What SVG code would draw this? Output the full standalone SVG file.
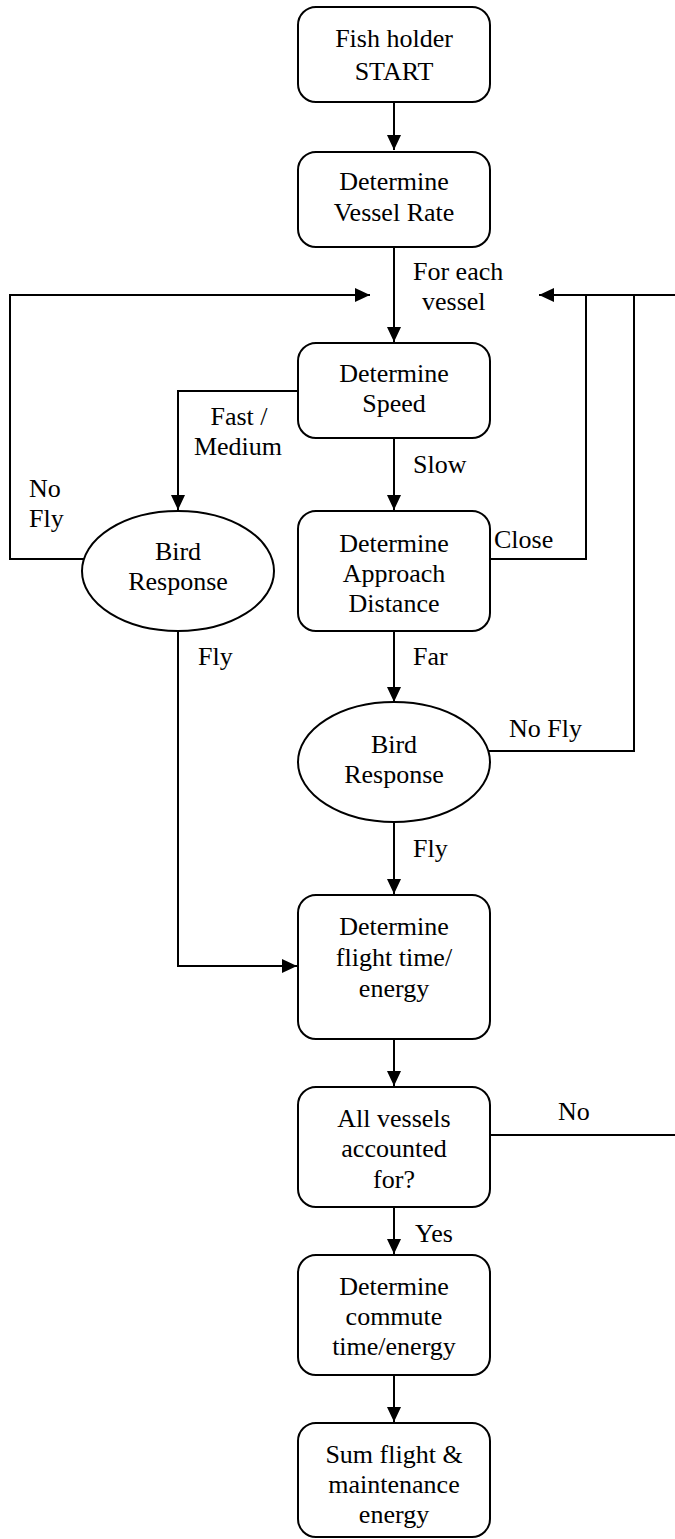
<svg xmlns="http://www.w3.org/2000/svg" width="675" height="1539" viewBox="0 0 675 1539" font-family="'Liberation Serif', 'Times New Roman', Times, 'DejaVu Serif', serif">
<style>
.n{fill:#fff;stroke:#000;stroke-width:2}
.t{font-family:'Liberation Serif', 'Times New Roman', Times, 'DejaVu Serif', serif;font-size:26px;fill:#000}
.c{text-anchor:middle}
.e{fill:none;stroke:#000;stroke-width:2}
</style>
<defs>
<marker id="ah" markerUnits="userSpaceOnUse" markerWidth="16" markerHeight="14" refX="15" refY="7" orient="auto">
<path d="M0,0 L15,7 L0,14 z" fill="#000"/>
</marker>
</defs>
<rect width="675" height="1539" fill="#fff"/>
<g id="connectors">
<path class="e" d="M394,102 V150" marker-end="url(#ah)"/>
<path class="e" d="M394,247 V342" marker-end="url(#ah)"/>
<path class="e" d="M394,438 V510" marker-end="url(#ah)"/>
<path class="e" d="M394,631 V702" marker-end="url(#ah)"/>
<path class="e" d="M394,822 V894" marker-end="url(#ah)"/>
<path class="e" d="M394,1039 V1086" marker-end="url(#ah)"/>
<path class="e" d="M394,1207 V1254" marker-end="url(#ah)"/>
<path class="e" d="M394,1375 V1422" marker-end="url(#ah)"/>
<path class="e" d="M297,391 H178 V510" marker-end="url(#ah)"/>
<path class="e" d="M84,559 H10 V295 H370" marker-end="url(#ah)"/>
<path class="e" d="M178,631 V966 H297" marker-end="url(#ah)"/>
<path class="e" d="M675,295 H539" marker-end="url(#ah)"/>
<path class="e" d="M490,559 H586 V295"/>
<path class="e" d="M488,751 H634 V295"/>
<path class="e" d="M490,1135 H675"/>
<text class="t" x="413" y="280">For each</text>
<text class="t" x="422" y="310">vessel</text>
<text class="t c" x="239" y="425">Fast /</text>
<text class="t c" x="238" y="455">Medium</text>
<text class="t" x="413" y="473">Slow</text>
<text class="t" x="29" y="497">No</text>
<text class="t" x="29" y="527">Fly</text>
<text class="t" x="494" y="548">Close</text>
<text class="t" x="198" y="665">Fly</text>
<text class="t" x="413" y="665">Far</text>
<text class="t" x="509" y="737">No Fly</text>
<text class="t" x="413" y="857">Fly</text>
<text class="t" x="558" y="1120">No</text>
<text class="t" x="415" y="1242">Yes</text>
</g>
<g id="start">
<rect class="n" x="298" y="7" width="192" height="95" rx="18"/>
<text class="t c" x="394" y="47">Fish holder</text>
<text class="t c" x="394" y="80">START</text>
</g>
<g id="vesselRate">
<rect class="n" x="298" y="152" width="192" height="95" rx="18"/>
<text class="t c" x="394" y="190">Determine</text>
<text class="t c" x="394" y="221">Vessel Rate</text>
</g>
<g id="speed">
<rect class="n" x="298" y="343" width="192" height="95" rx="18"/>
<text class="t c" x="394" y="382">Determine</text>
<text class="t c" x="394" y="412">Speed</text>
</g>
<g id="birdResponse1">
<ellipse class="n" cx="178" cy="571" rx="96" ry="60"/>
<text class="t c" x="178" y="560">Bird</text>
<text class="t c" x="178" y="590">Response</text>
</g>
<g id="approach">
<rect class="n" x="298" y="511" width="192" height="120" rx="18"/>
<text class="t c" x="394" y="552">Determine</text>
<text class="t c" x="394" y="582">Approach</text>
<text class="t c" x="394" y="612">Distance</text>
</g>
<g id="birdResponse2">
<ellipse class="n" cx="394" cy="762" rx="96" ry="60"/>
<text class="t c" x="394" y="753">Bird</text>
<text class="t c" x="394" y="783">Response</text>
</g>
<g id="flight">
<rect class="n" x="298" y="895" width="192" height="144" rx="18"/>
<text class="t c" x="394" y="935">Determine</text>
<text class="t c" x="394" y="966">flight time/</text>
<text class="t c" x="394" y="997">energy</text>
</g>
<g id="allVessels">
<rect class="n" x="298" y="1087" width="192" height="120" rx="18"/>
<text class="t c" x="394" y="1127">All vessels</text>
<text class="t c" x="394" y="1157">accounted</text>
<text class="t c" x="394" y="1188">for?</text>
</g>
<g id="commute">
<rect class="n" x="298" y="1255" width="192" height="120" rx="18"/>
<text class="t c" x="394" y="1295">Determine</text>
<text class="t c" x="394" y="1325">commute</text>
<text class="t c" x="394" y="1355">time/energy</text>
</g>
<g id="sum">
<rect class="n" x="298" y="1423" width="192" height="114" rx="18"/>
<text class="t c" x="394" y="1463">Sum flight &amp;</text>
<text class="t c" x="394" y="1493">maintenance</text>
<text class="t c" x="394" y="1523">energy</text>
</g>
</svg>
